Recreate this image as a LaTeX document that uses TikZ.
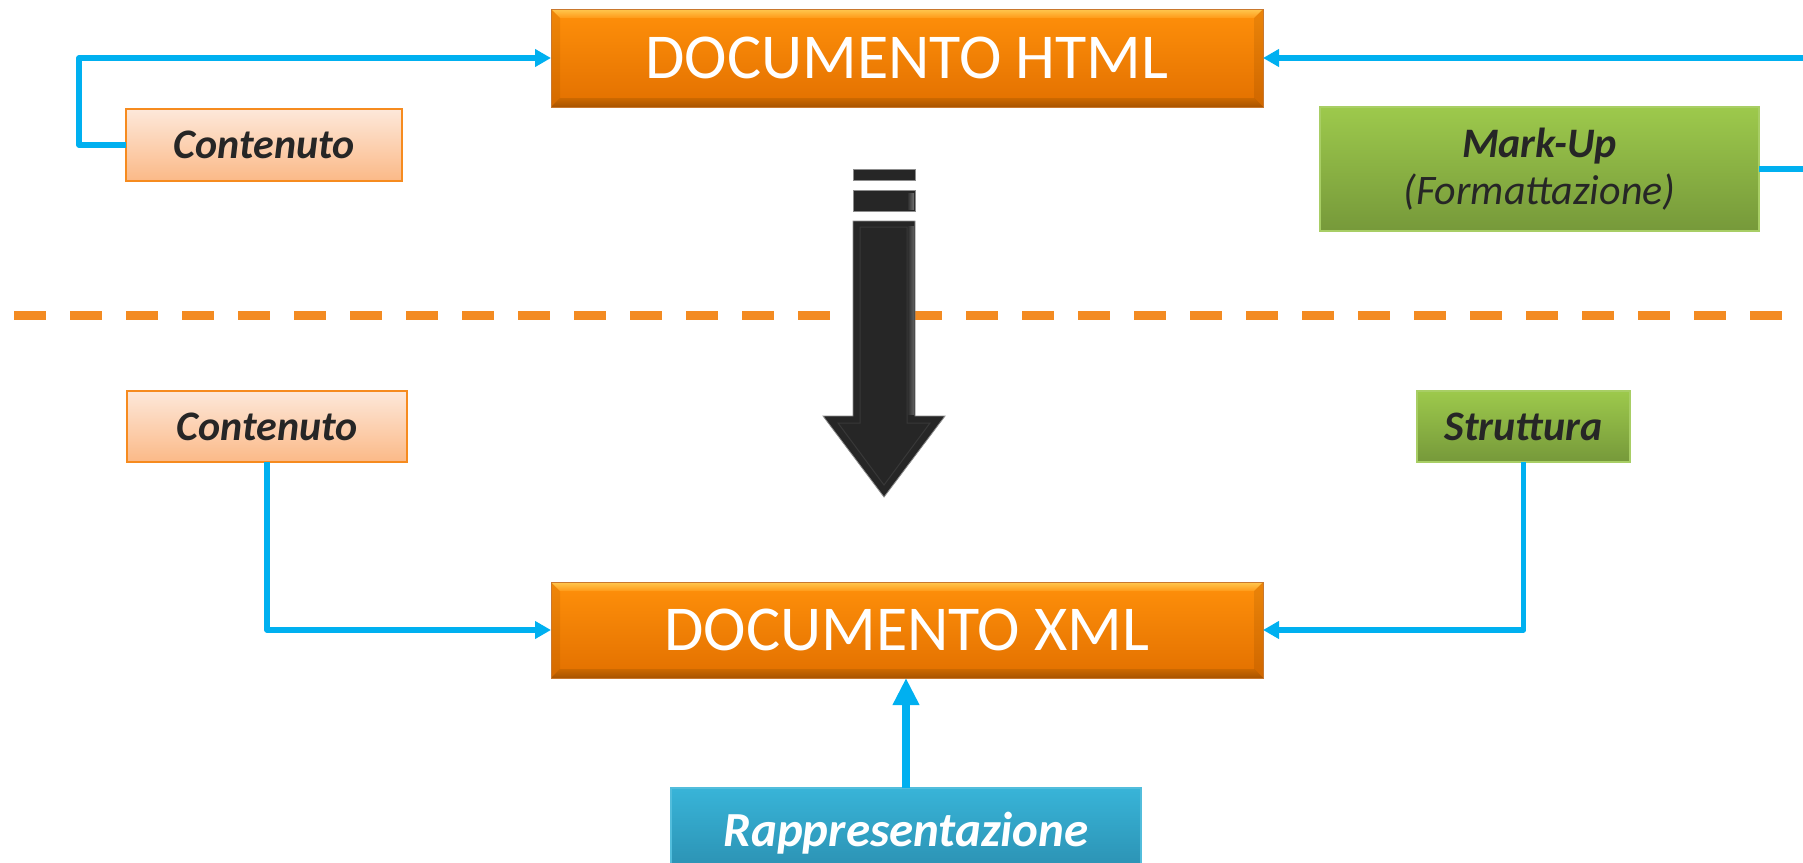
\documentclass[tikz,border=0pt]{standalone}
\usepackage{fontspec}
\setmainfont{Carlito}
\usetikzlibrary{arrows.meta}
\definecolor{conncol}{HTML}{00B0F0}
\definecolor{dashcol}{HTML}{F38B22}
\definecolor{orgA}{HTML}{FF900A}
\definecolor{orgB}{HTML}{E27000}
\definecolor{orgEdge}{HTML}{C9782E}
\definecolor{bevtopA}{HTML}{FFC850}
\definecolor{bevtopB}{HTML}{FF9A18}
\definecolor{bevbotA}{HTML}{CC6800}
\definecolor{bevbotB}{HTML}{A85400}
\definecolor{peachA}{HTML}{FDE8DA}
\definecolor{peachB}{HTML}{FBB987}
\definecolor{peachEdge}{HTML}{F68B1F}
\definecolor{greenA}{HTML}{9DC94C}
\definecolor{greenB}{HTML}{76993A}
\definecolor{greenEdge}{HTML}{A8CE65}
\definecolor{blueA}{HTML}{38B4D8}
\definecolor{blueB}{HTML}{2A8DAE}
\definecolor{blueEdge}{HTML}{52BDDC}
\definecolor{darktext}{HTML}{262626}
\definecolor{arrowblack}{HTML}{262626}
\newcommand{\orangebevel}[1]{%
  \shade[top color=bevtopA, bottom color=bevtopB]
    (#1.north west) -- (#1.north east) -- ([shift={(-4.5pt,-4.5pt)}]#1.north east)
    -- ([shift={(4.5pt,-4.5pt)}]#1.north west) -- cycle;
  \shade[top color=bevbotA, bottom color=bevbotB]
    (#1.south west) -- (#1.south east) -- ([shift={(-4.5pt,4.5pt)}]#1.south east)
    -- ([shift={(4.5pt,4.5pt)}]#1.south west) -- cycle;
  \fill[black, opacity=0.06]
    (#1.north west) -- ([shift={(4.5pt,-4.5pt)}]#1.north west)
    -- ([shift={(4.5pt,4.5pt)}]#1.south west) -- (#1.south west) -- cycle;
  \fill[black, opacity=0.08]
    (#1.north east) -- ([shift={(-4.5pt,-4.5pt)}]#1.north east)
    -- ([shift={(-4.5pt,4.5pt)}]#1.south east) -- (#1.south east) -- cycle;
  \draw[orgEdge, line width=0.5pt] (#1.north west) rectangle (#1.south east);
}
\begin{document}
\begin{tikzpicture}[x=0.5pt,y=-0.5pt,
  bigbox/.style={rectangle, inner sep=0pt, outer sep=0pt,
    minimum width=356pt, top color=orgA, bottom color=orgB,
    text=white, font=\fontsize{32pt}{36pt}\selectfont,
    text height=20.6pt, text depth=0pt},
  peachbox/.style={rectangle, inner sep=0pt, outer sep=0pt,
    top color=peachA, bottom color=peachB, draw=peachEdge, line width=1.1pt,
    text=darktext, font=\fontsize{21pt}{25pt}\selectfont\bfseries\itshape,
    text height=13.5pt, text depth=0pt},
  greenbox/.style={rectangle, inner sep=0pt, outer sep=0pt,
    top color=greenA, bottom color=greenB, draw=greenEdge, line width=0.9pt,
    text=darktext, font=\fontsize{21pt}{23.5pt}\selectfont\itshape},
  bluebox/.style={rectangle, inner sep=0pt, outer sep=0pt,
    top color=blueA, bottom color=blueB, draw=blueEdge, line width=0.8pt},
  raptext/.style={inner sep=0pt, text=white,
    font=\fontsize{24.5pt}{28pt}\selectfont\bfseries\itshape},
  conn/.style={draw=conncol, line width=2.8pt, line join=round,
    -{Triangle[length=8pt,width=8.5pt]}},
  plainconn/.style={draw=conncol, line width=2.8pt, line join=round},
  upconn/.style={draw=conncol, line width=4pt,
    -{Triangle[length=13.5pt,width=12.5pt]}},
  dashline/.style={draw=dashcol, line width=4.5pt, dash pattern=on 16pt off 12pt},
  bigarrow/.style={fill=arrowblack, draw=black!45, line width=0.4pt, line join=miter}
]
\useasboundingbox (0,0) rectangle (1803,862);
\clip (0,0) rectangle (1803,862);
\fill[white] (0,0) rectangle (1803,862);

% dashed separator
\draw[dashline] (14,315) -- (1815,315);

% big down arrow
\fill[bigarrow] (853,169) rectangle (915,180);
\fill[bigarrow] (853,190) rectangle (915,211);
\fill[bigarrow] (853,221) -- (915,221) -- (915,416) -- (945,416) -- (884,497)
  -- (823,416) -- (853,416) -- cycle;
\shade[left color=arrowblack, right color=black!62] (907,226) rectangle (914,414);
\shade[left color=arrowblack, right color=black!55] (907,193) rectangle (914,209);
\draw[black!78, line width=0.5pt] (860,227) -- (907,227) -- (907,423) -- (930,423)
  -- (884,485) -- (838,423) -- (860,423) -- cycle;

% main boxes
\node[bigbox, minimum height=49pt] (html) at (907,58) {DOCUMENTO HTML};
\orangebevel{html}
\node[bigbox, minimum height=48pt] (xml) at (907,630) {DOCUMENTO XML};
\orangebevel{xml}

% side boxes
\node[peachbox, minimum width=138pt, minimum height=36pt] (cont1) at (264,145) {Contenuto};
\node[peachbox, minimum width=140pt, minimum height=35.5pt] (cont2) at (267,426.5) {Contenuto};
\node[greenbox, minimum width=219.5pt, minimum height=62pt, align=center] (markup)
  at (1539.5,169) {\textbf{Mark-Up}\\(Formattazione)};
\node[greenbox, minimum width=106.5pt, minimum height=35.5pt,
  text height=13.5pt, text depth=0pt] (strut) at (1523.5,426.5) {\textbf{Struttura}};
\node[bluebox, minimum width=235pt, minimum height=46pt] (rapp) at (906,834) {};
\node[raptext, anchor=base] (rapptext) at (906,846) {Rappresentazione};

% helper coordinates for free ends / bends
\coordinate (kleft) at (79,0);
\coordinate (kright) at (1815,0);

% connectors
\draw[conn] (cont1.west) -- (cont1.west -| kleft) |- (html.west);
\draw[conn] (html.east -| kright) -- (html.east);
\draw[plainconn] (markup.east) -- (markup.east -| kright);
\draw[conn] (cont2.south) |- (xml.west);
\draw[conn] (strut.south) |- (xml.east);
\draw[upconn] (rapp.north) -- (rapp.north |- xml.south);
\end{tikzpicture}
\end{document}
